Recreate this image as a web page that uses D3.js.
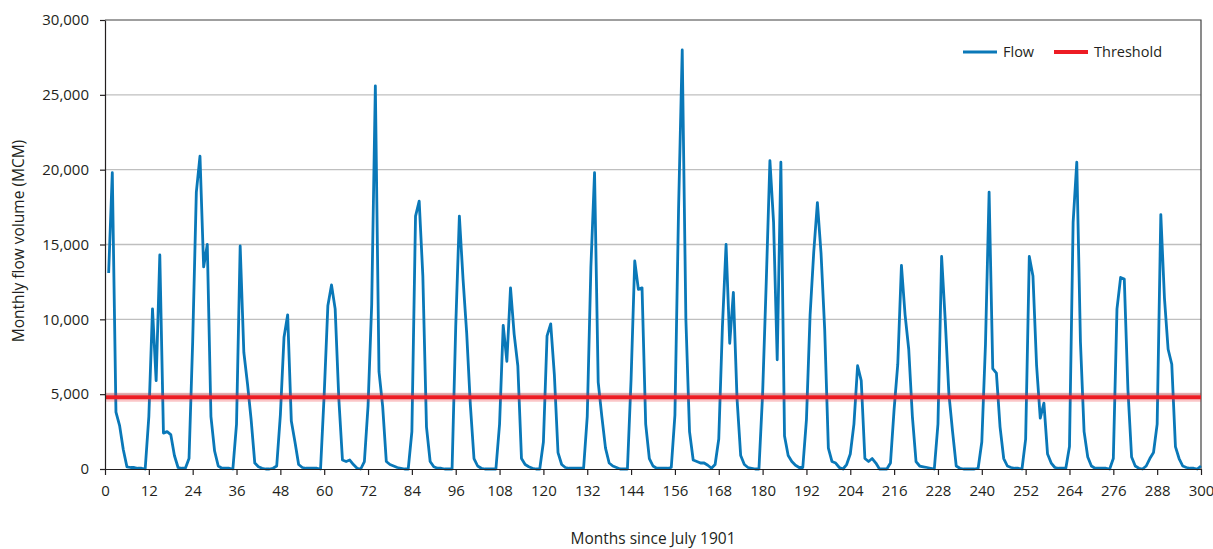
<!DOCTYPE html>
<html>
<head>
<meta charset="utf-8">
<script src="https://cdn.jsdelivr.net/npm/d3@7"></script>
<style>
  body { margin: 0; background: #fff; }
  text { font-family: "Open Sans", sans-serif; fill: #231f20; }
</style>
</head>
<body>
<div class="box"></div>
<script>
// monthly flow (MCM), month 1 .. 300 since July 1901
var firstMonth = 1;
var flow = [
  13100, 19800, 3800, 2900, 1300, 150, 100, 100, 50, 50, 0, 3500,
  10700, 5900, 14300, 2400, 2500, 2300, 900, 100, 50, 50, 700, 8500,
  18500, 20900, 13500, 15000, 3500, 1200, 200, 50, 50, 50, 0, 3000,
  14900, 7800, 5700, 3300, 400, 150, 50, 0, 0, 50, 200, 3600,
  8800, 10300, 3200, 1800, 300, 100, 50, 50, 50, 50, 0, 5000,
  10900, 12300, 10700, 4700, 600, 500, 600, 300, 50, 0, 500, 4200,
  11000, 25600, 6500, 4200, 500, 300, 200, 100, 50, 0, 0, 2500,
  16900, 17900, 12900, 2800, 500, 150, 50, 50, 0, 0, 0, 9500,
  16900, 12700, 9100, 4300, 700, 200, 50, 0, 0, 0, 0, 3000,
  9600, 7200, 12100, 9000, 6900, 700, 300, 150, 50, 0, 0, 1800,
  8900, 9700, 6300, 1100, 300, 100, 50, 50, 50, 50, 50, 3500,
  13500, 19800, 5800, 3500, 1400, 400, 200, 100, 0, 0, 0, 6000,
  13900, 12000, 12100, 3000, 700, 200, 50, 50, 50, 50, 100, 3600,
  17400, 28000, 10000, 2500, 600, 500, 400, 400, 250, 50, 300, 2000,
  9500, 15000, 8400, 11800, 4700, 900, 300, 100, 50, 0, 0, 5000,
  12500, 20600, 16500, 7300, 20500, 2200, 900, 500, 250, 100, 100, 3300,
  10300, 14500, 17800, 14400, 9300, 1400, 500, 400, 100, 0, 300, 1000,
  3000, 6900, 5900, 700, 500, 700, 400, 0, 0, 0, 400, 4000,
  7000, 13600, 10300, 8000, 3500, 500, 200, 150, 100, 50, 0, 3000,
  14200, 9900, 5000, 2500, 200, 50, 0, 0, 0, 0, 50, 1800,
  8300, 18500, 6700, 6400, 2800, 700, 200, 100, 50, 50, 0, 2000,
  14200, 12900, 6900, 3400, 4400, 1000, 400, 100, 50, 50, 50, 1500,
  16500, 20500, 8500, 2500, 800, 200, 50, 50, 50, 50, 0, 700,
  10700, 12800, 12700, 5300, 800, 200, 50, 0, 200, 700, 1100, 3000,
  17000, 11400, 8000, 7000, 1500, 700, 200, 100, 50, 50, 0, 200
];
var threshold = 4800;

var xTicks = [0, 12, 24, 36, 48, 60, 72, 84, 96, 108, 120, 132, 144, 156, 168,
  180, 192, 204, 216, 228, 240, 252, 264, 276, 288, 300];
var yTicks = [0, 5000, 10000, 15000, 20000, 25000, 30000];
var seriesNames = ["Flow", "Threshold"];
var xTitle = "Months since July 1901";
var yTitle = "Monthly flow volume (MCM)";

var width = 1213, height = 549;
var margin = { top: 20, right: 12, bottom: 80, left: 105 };
var flowColor = "#0a78b8", threshColor = "#ed1c24";

var data = flow.map(function (v, i) { return { month: firstMonth + i, value: v }; });

var x = d3.scaleLinear().domain([0, 300]).range([margin.left, width - margin.right]);
var y = d3.scaleLinear().domain([0, 30000]).range([height - margin.bottom, margin.top]);

var svg = d3.create("svg")
  .attr("width", width)
  .attr("height", height)
  .attr("viewBox", [0, 0, width, height]);

// gridlines
svg.append("g")
  .selectAll("line")
  .data(yTicks.filter(d => d > 0 && d < 30000))
  .join("line")
  .attr("x1", x(0)).attr("x2", x(300))
  .attr("y1", d => y(d)).attr("y2", d => y(d))
  .attr("stroke", "#bfbfbf")
  .attr("stroke-width", 1.3);

// frame top/right
svg.append("path")
  .attr("d", `M${x(0)},${y(30000)}H${x(300)}V${y(0)}`)
  .attr("fill", "none")
  .attr("stroke", "#404040")
  .attr("stroke-width", 1.2);

// flow line
var line = d3.line()
  .x(d => x(d.month))
  .y(d => y(d.value));

svg.append("path")
  .datum(data)
  .attr("fill", "none")
  .attr("stroke", flowColor)
  .attr("stroke-width", 2.8)
  .attr("stroke-linejoin", "round")
  .attr("d", line);

// threshold
var thr = svg.append("g");
thr.append("line")
  .attr("x1", x(0)).attr("x2", x(300))
  .attr("y1", y(threshold)).attr("y2", y(threshold))
  .attr("stroke", threshColor)
  .attr("stroke-opacity", 0.25)
  .attr("stroke-width", 9);
thr.append("line")
  .attr("x1", x(0)).attr("x2", x(300))
  .attr("y1", y(threshold)).attr("y2", y(threshold))
  .attr("stroke", threshColor)
  .attr("stroke-width", 4);

// axes
var xAxis = svg.append("g")
  .attr("transform", `translate(0,${y(0)})`)
  .call(d3.axisBottom(x).tickValues(xTicks).tickSize(6).tickPadding(10).tickSizeOuter(0));
var yAxis = svg.append("g")
  .attr("transform", `translate(${x(0)},0)`)
  .call(d3.axisLeft(y).tickValues(yTicks).tickFormat(d3.format(",")).tickSize(5).tickPadding(11).tickSizeOuter(0));

[xAxis, yAxis].forEach(function (a) {
  a.selectAll("path, line").attr("stroke", "#231f20").attr("stroke-width", 1.2);
  a.selectAll("text")
    .style("font-family", '"Open Sans", sans-serif')
    .style("font-size", "15px")
    .attr("fill", "#231f20");
});

// axis titles
svg.append("text")
  .attr("x", 653)
  .attr("y", 544)
  .attr("text-anchor", "middle")
  .style("font-size", "15.5px")
  .text(xTitle);

svg.append("text")
  .attr("transform", "translate(24,241) rotate(-90)")
  .attr("text-anchor", "middle")
  .style("font-size", "15.5px")
  .text(yTitle);

// legend
var legend = svg.append("g");
var legendItems = [
  { name: seriesNames[0], color: flowColor, w: 2.8, x0: 963 },
  { name: seriesNames[1], color: threshColor, w: 4, x0: 1054 }
];
legendItems.forEach(function (it) {
  legend.append("line")
    .attr("x1", it.x0).attr("x2", it.x0 + 34)
    .attr("y1", 52).attr("y2", 52)
    .attr("stroke", it.color)
    .attr("stroke-width", it.w);
  legend.append("text")
    .attr("x", it.x0 + 40)
    .attr("y", 57)
    .style("font-size", "14.5px")
    .text(it.name);
});

document.querySelector(".box").appendChild(svg.node());
</script>
</body>
</html>
